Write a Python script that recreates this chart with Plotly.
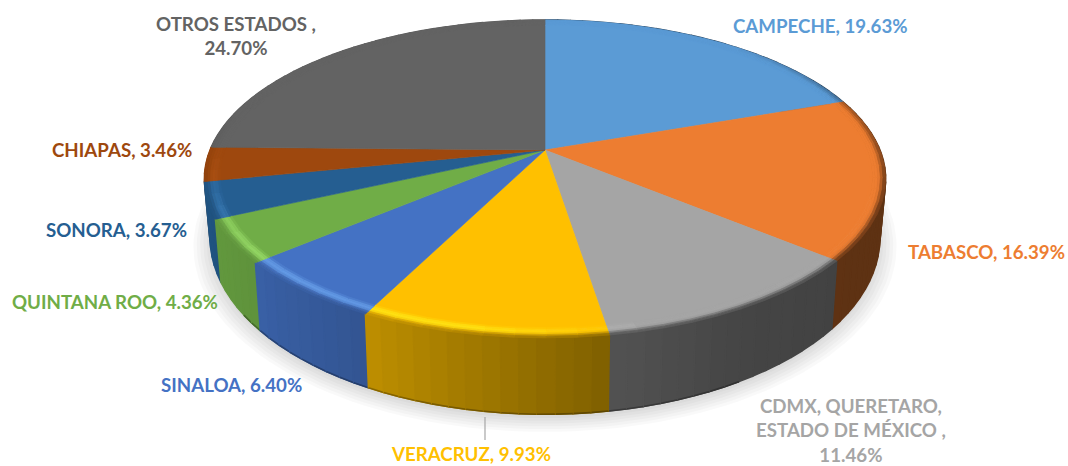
import numpy as np
import plotly.graph_objects as go

states = ["CAMPECHE", "TABASCO", "CDMX, QUERETARO, ESTADO DE MÉXICO", "VERACRUZ", "SINALOA",
          "QUINTANA ROO", "SONORA", "CHIAPAS", "OTROS ESTADOS"]
shares = [19.63, 16.39, 11.46, 9.93, 6.40, 4.36, 3.67, 3.46, 24.70]
colors = ["#5B9BD5", "#ED7D31", "#A5A5A5", "#FFC000", "#4472C4", "#70AD47", "#255E91", "#9E480E", "#636363"]
label_text = ["CAMPECHE, 19.63%", "TABASCO, 16.39%", "CDMX, QUERETARO,<br>ESTADO DE MÉXICO ,<br>11.46%",
              "VERACRUZ, 9.93%", "SINALOA, 6.40%", "QUINTANA ROO, 4.36%", "SONORA, 3.67%",
              "CHIAPAS, 3.46%", "OTROS ESTADOS ,<br>24.70%"]
label_xy = [(820, 26), (986, 252), (851, 430), (471, 454), (231, 385), (115, 302), (116, 230), (122, 150), (236, 36)]

CX, CY, RX, RY, K = 545.0, 150.0, 335.0, 153.7, 0.182
BEVEL = 0.955
RINGS = 6


def top(theta_deg, r=1.0):
    t = np.radians(theta_deg)
    u, v = r * np.sin(t), -r * np.cos(t)
    d = 1 - K * v
    return CX + RX * u / d, CY + RY * v / d


def bottom(theta_deg):
    x, y = top(theta_deg)
    return CX + (x - CX) * 0.983, y + 68 + (y - 262) * 0.11


def rgb(h):
    return np.array([int(h[i:i + 2], 16) for i in (1, 3, 5)], float)


def css(c):
    c = np.clip(c, 0, 255).astype(int)
    return f"rgb({c[0]},{c[1]},{c[2]})"


def wall_color(base, theta):
    f = np.interp(theta, [0, 125, 150, 171, 207, 230, 245, 270, 360],
                  [0.4, 0.4, 0.42, 0.5, 0.75, 0.85, 0.88, 0.9, 0.9])
    return rgb(base) * f


fig = go.Figure()


def poly(xs, ys, fill, line=None, lw=1.0):
    fig.add_trace(go.Scatter(x=xs, y=ys, mode="lines", fill="toself", fillcolor=fill,
                             line=dict(color=line or fill, width=lw), hoverinfo="skip", showlegend=False))


# soft shadow under the pie
th_all = np.linspace(0, 360, 181)
bx, by = bottom(th_all)
for s, dy in zip([1.05, 1.04, 1.03, 1.02, 1.01, 1.0], [9, 8, 7, 6, 5, 4]):
    sx = CX + (bx - CX) * s
    sy = 240 + (by - 240) * s + dy
    poly(sx, sy, "rgba(0,0,0,0.022)", line="rgba(0,0,0,0)", lw=0)

# slice angle ranges from the values
cum = np.cumsum([0] + shares)
ends = cum / cum[-1] * 360.0
slices = [(ends[i], ends[i + 1], colors[i]) for i in range(len(shares))]

# walls, back to front
segs = []
for a, b, col in slices:
    n = max(1, int((b - a) / 2.5))
    edges = np.linspace(a, b, n + 1)
    for i in range(n):
        segs.append((edges[i], edges[i + 1], col))
segs.sort(key=lambda s: -np.cos(np.radians((s[0] + s[1]) / 2)))
for a, b, col in segs:
    th = np.linspace(a, b, 4)
    tx, ty = top(th)
    ux, uy = bottom(th)
    mid = (a + b) / 2
    c = wall_color(col, mid)
    poly(np.r_[tx, ux[::-1], tx[0]], np.r_[ty, uy[::-1], ty[0]], css(c), lw=1.5)
    if 150 < mid < 235:
        fig.add_trace(go.Scatter(x=ux, y=uy, mode="lines", line=dict(color=css(c * 0.72), width=1.6),
                                 hoverinfo="skip", showlegend=False))

# flat top of each slice
for a, b, col in slices:
    th = np.linspace(a, b, max(3, int(b - a) * 2))
    x, y = top(th, BEVEL + 0.005)
    poly(np.r_[CX, x, CX], np.r_[CY, y, CY], col, lw=0.6)


def hi(theta):
    return float(np.interp(theta, [0, 165, 190, 225, 245, 262, 272, 360], [0, 0, 0.5, 0.55, 0.35, 0.1, 0, 0]))


def blend_strength(theta):
    return float(np.interp(theta, [0, 40, 75, 110, 255, 285, 360], [0, 0, 0.55, 1, 1, 0, 0]))


# rounded rim: a thin band that fades from the face colour to the wall colour
ring_r = np.linspace(BEVEL, 1.0, RINGS + 1)
for a, b, col in slices:
    n = max(1, int((b - a) / 4))
    edges = np.linspace(a, b, n + 1)
    for i in range(n):
        th = np.linspace(edges[i], edges[i + 1], 3)
        mid = th[1]
        for j in range(RINGS):
            t = (j + 0.5) / RINGS
            x0, y0 = top(th, ring_r[j])
            x1, y1 = top(th, ring_r[j + 1])
            base = rgb(col)
            bright = np.clip(base * 1.35 + 30, 0, 255)
            lit = base + (bright - base) * hi(mid) * np.sin(np.pi * min(t * 1.25, 1))
            w = np.clip((t - 0.55) / 0.45, 0, 1) * blend_strength(mid)
            c = lit + (wall_color(col, mid) - lit) * w
            poly(np.r_[x0, x1[::-1], x0[0]], np.r_[y0, y1[::-1], y0[0]], css(c), lw=0.8)

# leader line of the Veracruz label
fig.add_trace(go.Scatter(x=[485, 485], y=[417, 440], mode="lines", line=dict(color="#A6A6A6", width=1.2),
                         hoverinfo="skip", showlegend=False))

for txt, (lx, ly), col in zip(label_text, label_xy, colors):
    fig.add_annotation(x=lx, y=ly, text=f"<b>{txt}</b>", showarrow=False, xanchor="center", yanchor="middle",
                       font=dict(family="Lato, Carlito, sans-serif", size=18.7, color=col))

fig.update_layout(width=1068, height=466, margin=dict(l=0, r=0, t=0, b=0), paper_bgcolor="white",
                  plot_bgcolor="white", showlegend=False,
                  xaxis=dict(range=[0, 1068], visible=False, fixedrange=True),
                  yaxis=dict(range=[466, 0], visible=False, fixedrange=True))
fig.write_html("out.html", config={"displayModeBar": False},
               post_script="document.body.style.margin='0';document.body.style.overflow='hidden';")
